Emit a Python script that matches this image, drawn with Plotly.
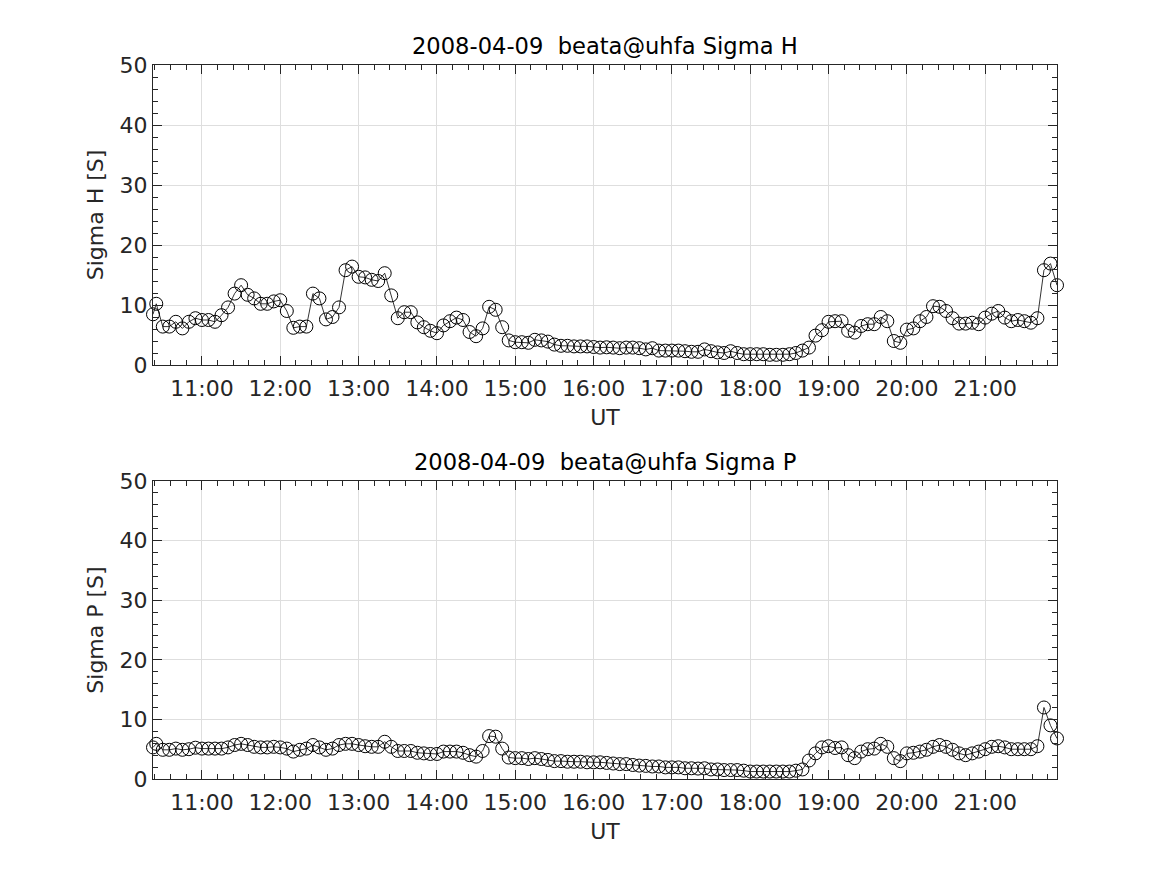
import datetime as dt
import plotly.graph_objects as go

# ---- data ----
first_time = "2008-04-09 10:22:30"
start_time = "2008-04-09 10:25:00"
step_minutes = 5

sigma_h = [
    8.45, 10.2, 6.4, 6.4, 7.2, 6.1, 7.2, 7.8, 7.5, 7.5,
    7.2, 8.3, 9.6, 11.9, 13.3, 11.7, 11.1, 10.2, 10.2, 10.6,
    10.8, 9.0, 6.2, 6.4, 6.4, 11.9, 11.1, 7.6, 8.0, 9.6,
    15.8, 16.4, 14.7, 14.6, 14.2, 14.0, 15.3, 11.6, 7.8, 8.8,
    8.8, 7.1, 6.3, 5.7, 5.3, 6.6, 7.3, 7.9, 7.5, 5.5,
    4.8, 6.1, 9.7, 9.2, 6.3, 4.1, 3.8, 3.8, 3.7, 4.2,
    4.1, 3.9, 3.4, 3.2, 3.2, 3.1, 3.1, 3.1, 3.0, 2.9,
    2.95, 2.9, 2.8, 2.9, 2.9, 2.8, 2.6, 2.8, 2.4, 2.4,
    2.4, 2.4, 2.3, 2.2, 2.2, 2.6, 2.3, 2.1, 2.0, 2.3,
    2.0, 1.8, 1.8, 1.8, 1.8, 1.7, 1.7, 1.7, 1.8, 2.0,
    2.4, 2.9, 4.9, 5.8, 7.2, 7.3, 7.3, 5.7, 5.4, 6.5,
    6.8, 6.8, 8.0, 7.3, 4.0, 3.7, 5.9, 6.1, 7.3, 8.0,
    9.8, 9.7, 9.0, 7.8, 6.9, 6.9, 7.05, 6.8, 7.9, 8.55,
    9.0, 7.9, 7.3, 7.5, 7.3, 7.05, 7.8, 15.8, 16.9, 13.3,
]

sigma_p = [
    5.3, 5.9, 4.9, 4.9, 5.1, 4.9, 5.0, 5.25, 5.1, 5.1,
    5.1, 5.1, 5.3, 5.7, 5.9, 5.7, 5.4, 5.3, 5.3, 5.4,
    5.3, 5.1, 4.6, 4.9, 5.1, 5.7, 5.3, 4.9, 5.1, 5.7,
    5.9, 5.9, 5.7, 5.5, 5.4, 5.4, 6.25, 5.4, 4.7, 4.7,
    4.7, 4.4, 4.3, 4.2, 4.2, 4.6, 4.6, 4.6, 4.4, 4.0,
    3.75, 4.7, 7.2, 7.1, 5.1, 3.6, 3.5, 3.5, 3.35, 3.5,
    3.35, 3.2, 3.0, 3.0, 2.9, 2.9, 2.9, 2.8, 2.8, 2.8,
    2.7, 2.6, 2.5, 2.5, 2.35, 2.25, 2.2, 2.1, 2.1, 1.95,
    1.95, 1.95, 1.8, 1.8, 1.75, 1.8, 1.6, 1.6, 1.5, 1.5,
    1.5, 1.4, 1.25, 1.25, 1.25, 1.25, 1.25, 1.25, 1.25, 1.4,
    1.6, 3.1, 4.3, 5.3, 5.5, 5.2, 5.3, 4.0, 3.5, 4.6,
    5.0, 5.1, 5.9, 5.4, 3.5, 3.0, 4.3, 4.4, 4.6, 4.9,
    5.4, 5.7, 5.4, 4.9, 4.3, 4.0, 4.3, 4.6, 5.0, 5.4,
    5.5, 5.3, 5.0, 5.0, 5.0, 5.0, 5.5, 12.0, 9.0, 6.8,
]

titles = ["2008-04-09\u00a0 beata@uhfa Sigma H", "2008-04-09\u00a0 beata@uhfa Sigma P"]
y_labels = ["Sigma H [S]", "Sigma P [S]"]
x_label = "UT"
y_ticks = [0, 10, 20, 30, 40, 50]

# sample times
t0 = dt.datetime.fromisoformat(start_time)
times = [dt.datetime.fromisoformat(first_time)] + [
    t0 + dt.timedelta(minutes=step_minutes * i) for i in range(len(sigma_h) - 1)
]

# ---- figure ----
OFF = 8                     # page body margin
W, H = 1167 - OFF, 875 - OFF
FONT = "DejaVu Sans"
TXT = "#262626"
GRID = "#dedede"

fig = go.Figure()

# axes boxes in window pixels (left, right, top, bottom)
ax_px = [(153, 1057, 65, 365), (153, 1057, 481, 779)]

for i, (vals, ttl, ylab) in enumerate(zip([sigma_h, sigma_p], titles, y_labels)):
    xa = "x" if i == 0 else "x2"
    ya = "y" if i == 0 else "y2"
    fig.add_trace(go.Scatter(
        x=times, y=vals, xaxis=xa, yaxis=ya, mode="lines+markers",
        line=dict(color="black", width=0.8),
        marker=dict(symbol="circle-open", size=13, color="black", line=dict(width=1, color="black")),
        cliponaxis=False,
        showlegend=False,
    ))
    l, r, t, b = ax_px[i]
    xdom = [(l - OFF) / W, (r - OFF) / W]
    ydom = [1 - (b - OFF) / H, 1 - (t - OFF) / H]
    xkey = "xaxis" if i == 0 else "xaxis2"
    ykey = "yaxis" if i == 0 else "yaxis2"
    fig.update_layout(**{
        xkey: dict(
            domain=xdom, anchor=ya, type="date", automargin=False,
            range=[times[0], times[-1]],
            tick0="2008-04-09 00:00:00", dtick=3600000, tickformat="%H:%M",
            ticks="inside", ticklen=9, tickwidth=1, tickcolor=TXT,
            ticklabelstandoff=4,
            showline=True, linecolor=TXT, linewidth=1, mirror="allticks",
            showgrid=True, gridcolor=GRID, gridwidth=1, zeroline=False,
            tickfont=dict(family=FONT, size=22, color=TXT),
            title=dict(text=x_label, font=dict(family=FONT, size=22, color=TXT), standoff=9),
            minor=dict(ticks="inside", ticklen=5, tickcolor=TXT, dtick=720000,
                       tick0="2008-04-09 00:00:00", showgrid=False),
        ),
        ykey: dict(
            domain=ydom, anchor=xa, range=[0, 50], automargin=False,
            tickvals=y_ticks,
            ticks="inside", ticklen=9, tickwidth=1, tickcolor=TXT,
            showline=True, linecolor=TXT, linewidth=1, mirror="allticks",
            showgrid=True, gridcolor=GRID, gridwidth=1, zeroline=False,
            tickfont=dict(family=FONT, size=22, color=TXT),
            title=dict(text=ylab, font=dict(family=FONT, size=22, color=TXT), standoff=9),
            minor=dict(ticks="inside", ticklen=5, tickcolor=TXT, dtick=2, tick0=0, showgrid=False),
        ),
    })
    fig.add_annotation(
        text=ttl, xref="paper", yref="paper",
        x=(xdom[0] + xdom[1]) / 2, y=ydom[1], xanchor="center", yanchor="bottom",
        yshift=4, showarrow=False,
        font=dict(family=FONT, size=22.6, color="black"),
    )

fig.update_layout(
    width=W, height=H,
    margin=dict(l=0, r=0, t=0, b=0, autoexpand=False),
    paper_bgcolor="white", plot_bgcolor="white",
    font=dict(family=FONT, color=TXT),
)

fig.write_html("out.html")
